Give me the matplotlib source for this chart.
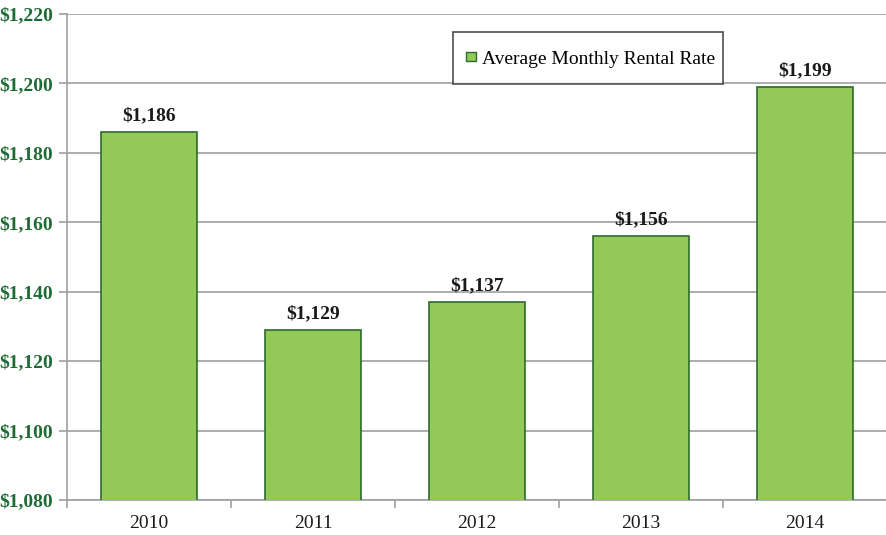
import matplotlib
matplotlib.use("Agg")
import matplotlib.pyplot as plt
from matplotlib.lines import Line2D
from matplotlib.path import Path
import numpy as np

years = ["2010", "2011", "2012", "2013", "2014"]
rents = [1186, 1129, 1137, 1156, 1199]
yticks = [1080, 1100, 1120, 1140, 1160, 1180, 1200, 1220]

plt.rcParams['font.family'] = ['Liberation Serif', 'DejaVu Serif']

fig = plt.figure(figsize=(8.87, 5.35), dpi=100)
ax = fig.add_axes([67/887, 35/535, 820/887, 486/535])

x = np.arange(len(years))
ax.bar(x, rents, width=0.59, color="#92c957", edgecolor="#2e6b2e", linewidth=1.2,
       zorder=3)

for xi, v in zip(x, rents):
    ax.text(xi, v + 2.2, "${:,}".format(v), ha="center", va="bottom",
            fontsize=14, fontweight="bold", color="#1a1a1a")

ax.set_ylim(1080, 1220)
ax.set_xlim(-0.5, 4.5)
ax.set_yticks(yticks)
ax.set_yticklabels(["${:,}".format(t) for t in yticks], fontsize=14,
                   fontweight="bold", color="#1f6b35")
ax.yaxis.grid(True, color="#a0a0a0", linewidth=1.2, zorder=0)
ax.set_axisbelow(True)

# x ticks at category boundaries, labels centered
ax.set_xticks(np.arange(-0.5, 5.0, 1.0))
ax.set_xticklabels([])
ax.set_xticks(x, minor=True)
ax.set_xticklabels(years, minor=True, fontsize=14, color="#1a1a1a")
ax.tick_params(axis="x", which="minor", length=0, pad=11)
ax.tick_params(axis="x", which="major", length=6, color="#a0a0a0", width=1.2)
ax.tick_params(axis="y", length=6, color="#a0a0a0", width=1.2, pad=4)

for s in ["top", "right"]:
    ax.spines[s].set_visible(False)
for s in ["left", "bottom"]:
    ax.spines[s].set_color("#a0a0a0")
    ax.spines[s].set_linewidth(1.2)

# square marker shifted a little downwards so it sits level with the text
low_square = Path([(-0.5, -1.0), (0.5, -1.0), (0.5, 0.0), (-0.5, 0.0), (-0.5, -1.0)],
                  [Path.MOVETO, Path.LINETO, Path.LINETO, Path.LINETO, Path.CLOSEPOLY])
handle = Line2D([], [], linestyle="none", marker=low_square, markersize=13,
                markerfacecolor="#92c957", markeredgecolor="#2e6b2e",
                markeredgewidth=1.0)
leg = ax.legend([handle], ["Average Monthly Rental Rate"], loc="upper left",
                bbox_to_anchor=((453-67)/820, 1-(32-14)/486),
                fontsize=14, frameon=True, fancybox=False, handlelength=1.05,
                handleheight=2.5, handletextpad=0.05, borderpad=0.4,
                borderaxespad=0)
leg.get_frame().set_edgecolor("#222222")
leg.get_frame().set_linewidth(1.2)

fig.savefig("out.png", dpi=100)
